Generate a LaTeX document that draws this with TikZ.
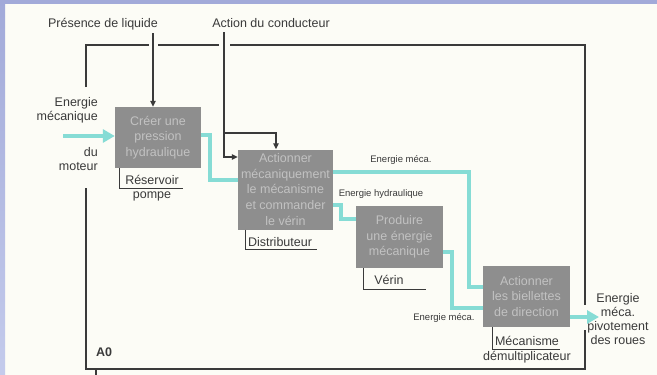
\documentclass[tikz,border=0pt]{standalone}
\usepackage{fontspec}
\setmainfont{Liberation Sans}
\usetikzlibrary{arrows.meta}
\definecolor{bg}{HTML}{FCFCF6}
\definecolor{band}{HTML}{A2AAD9}
\definecolor{bandlight}{HTML}{C4CBEC}
\definecolor{boxgray}{HTML}{8E8E8E}
\definecolor{boxtext}{HTML}{C2C2C2}
\definecolor{flowc}{HTML}{86DCD5}
\definecolor{linec}{HTML}{3A3A3A}
\tikzset{
  fbox/.style={fill=boxgray, draw=none, text=boxtext, align=center, inner sep=0pt,
    font=\fontsize{12.5}{15.3}\selectfont},
  lbl/.style={text=linec, inner sep=0pt, font=\fontsize{12.5}{14.5}\selectfont},
  slbl/.style={text=linec, inner sep=0pt, font=\fontsize{9.5}{11}\selectfont},
  flow/.style={draw=flowc, line width=4pt},
  flowarrow/.style={flow, -{Triangle[length=12pt,width=13pt]}},
  ctrl/.style={draw=linec, line width=1.1pt},
  ctrlarrow/.style={ctrl, -{Triangle[length=6pt,width=5.5pt]}},
  frame/.style={draw=linec, line width=1.2pt},
  mech/.style={draw=linec, line width=1pt}
}
\begin{document}
\begin{tikzpicture}[x=1pt,y=-1pt]
\useasboundingbox (0,0) rectangle (657,375);
\fill[bg] (0,0) rectangle (657,375);
\shade[top color=band, bottom color=bandlight] (0,0) rectangle (5,375);
\fill[band] (0,0) rectangle (657,4);

% outer frame A0
\draw[frame] (86,87) -- (86,45) -- (149,45);
\draw[frame] (158,45) -- (219,45);
\draw[frame] (230,45) -- (585,45) -- (585,305);
\draw[frame] (585,330) -- (585,369) -- (86,369) -- (86,188);
\draw[frame] (96,369) -- (96,375);
\node[lbl, font=\fontsize{12.5}{14.5}\selectfont\bfseries] (a0) at (104,352) {A0};

% boxes
\node[fbox, minimum width=86pt, minimum height=61pt] (b1) at (158,137.5) {Créer une\\pression\\hydraulique};
\node[fbox, minimum width=95pt, minimum height=80pt, font=\fontsize{12.5}{15.6}\selectfont] (b2) at (285.5,189.5) {Actionner\\mécaniquement\\le mécanisme\\et commander\\le vérin};
\node[fbox, minimum width=87pt, minimum height=62pt] (b3) at (399.5,237) {Produire\\une énergie\\mécanique};
\node[fbox, minimum width=87pt, minimum height=61pt] (b4) at (526.5,296.5) {Actionner\\les biellettes\\de direction};

% external labels
\node[lbl] (pl) at (103,24) {Présence de liquide};
\node[lbl] (ac) at (271,23) {Action du conducteur};
\node[lbl, align=right, anchor=east] (em) at (98,110.5) {Energie\\mécanique};
\node[lbl, align=right, anchor=east] (dm) at (98,159) {du\\moteur};
\node[lbl, align=center, font=\fontsize{12.5}{14}\selectfont] (out) at (618,319) {Energie\\méca.\\pivotement\\des roues};

% input / output flows
\coordinate (inE) at (63,136);
\draw[flowarrow] (inE) -- (inE -| b1.west);
\coordinate (outE) at (599,317);
\draw[flowarrow] (b4.east |- outE) -- (outE);

% internal flows
\draw[flow] (b1.east |- 0,135) -- (210,135) |- (b2.west |- 0,180);
\draw[flow] (b2.east |- 0,172) -- (469,172) |- (b4.west |- 0,287);
\draw[flow] (b2.east |- 0,205) -- (341,205) |- (b3.west |- 0,219);
\draw[flow] (b3.east |- 0,252) -- (452,252) |- (b4.west |- 0,308);

\node[slbl] (f1) at (401,160) {Energie méca.};
\node[slbl] (f2) at (381,194) {Energie hydraulique};
\node[slbl] (f3) at (444,318) {Energie méca.};

% controls
\coordinate (plx) at (153,33);
\draw[ctrlarrow] (plx) -- (plx |- b1.north);
\coordinate (acx) at (224,32);
\draw[ctrlarrow] (acx) |- (b2.west |- 0,157);
\draw[ctrlarrow] (acx |- 0,133) -| ([xshift=-9.5pt]b2.north);

% mechanisms
\draw[mech] (b1.south -| 119,0) |- (183,188);
\node[lbl] (m1a) at (152,180) {Réservoir};
\node[lbl] (m1b) at (152,196) {pompe};
\draw[mech] (b2.south -| 245,0) |- (317,249);
\node[lbl] (m2) at (280,242) {Distributeur};
\draw[mech] (b3.south -| 363,0) |- (426,289);
\node[lbl] (m3) at (389,280) {Vérin};
\draw[mech] (b4.south -| 492,0) |- (560,349);
\node[lbl] (m4a) at (527,341) {Mécanisme};
\node[lbl] (m4b) at (527,357) {démultiplicateur};
\end{tikzpicture}
\end{document}
